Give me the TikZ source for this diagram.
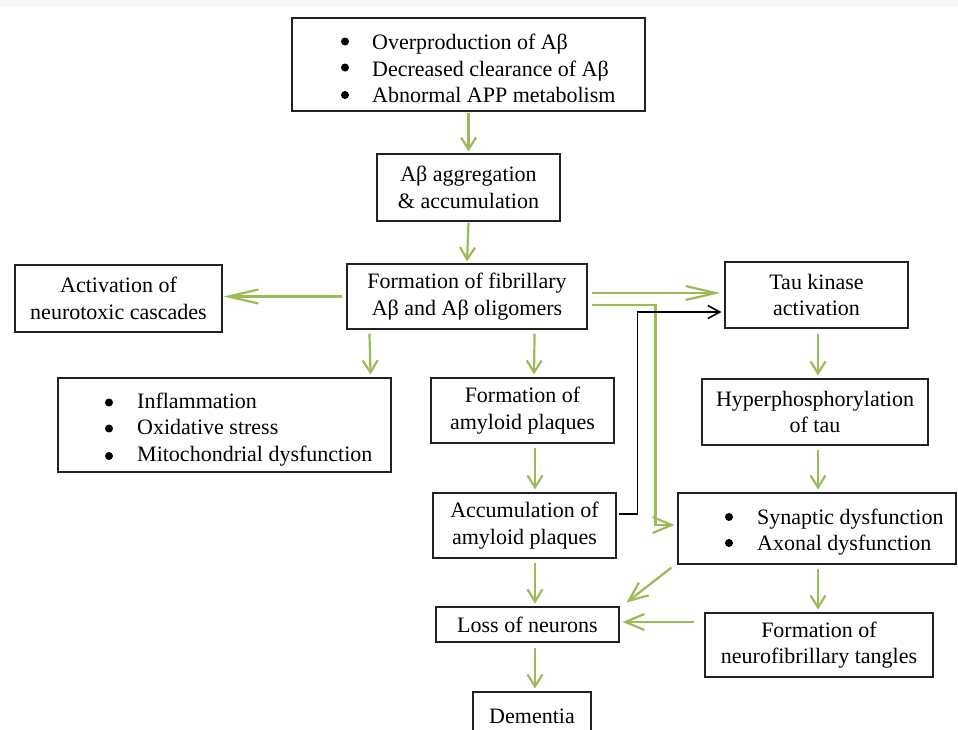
\documentclass[tikz,border=0pt]{standalone}
\usepackage{fontspec}
\setmainfont{Liberation Serif}
\usetikzlibrary{arrows.meta,calc}
\definecolor{gline}{HTML}{9BBB59}
\definecolor{boxline}{HTML}{222222}
\begin{document}
\begin{tikzpicture}[x=1pt,y=-1pt,
  box/.style={draw=boxline, line width=1.1pt, inner sep=0pt, align=center,
    font=\fontsize{22}{26.5}\selectfont, text=black},
  btext/.style={anchor=west, inner sep=0pt, align=left,
    font=\fontsize{22}{26.5}\selectfont, text=black},
  dot/.style={fill=black},
  garrow/.style={draw=gline, line width=2.2pt, -{Straight Barb[length=12pt,width=15pt,line width=2.2pt]}},
  longtip/.style={-{Straight Barb[length=30pt,width=14pt,line width=2.2pt]}},
  midtip/.style={-{Straight Barb[length=19pt,width=16pt,line width=2.2pt]}},
  barrow/.style={draw=black, line width=1.6pt, -{Straight Barb[length=12pt,width=13pt,line width=1.6pt]}}
]
\useasboundingbox (0,0) rectangle (958,729);
\clip (0,0) rectangle (958,729);
\fill[gray!6] (0,0) rectangle (958,7);

% boxes
\node[box, minimum width=353pt, minimum height=93pt] (top) at (468.5,64.5) {};
\node[btext] (toptext) at (372,68.5) {Overproduction of Aβ\\
  Decreased clearance of Aβ\\
  Abnormal APP metabolism};
\foreach \dy in {-27,-1,26.5} \fill[dot] ($(toptext.west)+(-27,\dy)$) circle (4);

\node[box, minimum width=183pt, minimum height=67pt] (agg) at (468.5,187.5) {Aβ aggregation\\\& accumulation};
\node[box, minimum width=240pt, minimum height=65pt] (fib) at (467,296.5) {Formation of fibrillary\\Aβ and Aβ oligomers};
\node[box, minimum width=207pt, minimum height=67pt] (act) at (118.5,298.5) {Activation of\\neurotoxic cascades};
\node[box, minimum width=183pt, minimum height=66pt] (tau) at (816.5,295) {Tau kinase\\activation};

\node[box, minimum width=333pt, minimum height=94pt] (infl) at (224.5,425) {};
\node[btext] (infltext) at (137,429.5) {Inflammation\\
  Oxidative stress\\
  Mitochondrial dysfunction};
\foreach \dy in {-27,-1,26.5} \fill[dot] ($(infltext.west)+(-28,\dy)$) circle (4);

\node[box, minimum width=183pt, minimum height=65pt] (fap) at (522.5,410.5) {Formation of\\amyloid plaques};
\node[box, minimum width=226pt, minimum height=66pt] (hyp) at (815,412) {Hyperphosphorylation\\of tau};
\node[box, minimum width=183pt, minimum height=65pt] (acc) at (524.5,525.5) {Accumulation of\\amyloid plaques};

\node[box, minimum width=278pt, minimum height=71pt] (syn) at (817,528.5) {};
\node[btext] (syntext) at (757,532) {Synaptic dysfunction\\
  Axonal dysfunction};
\foreach \dy in {-15,11} \fill[dot] ($(syntext.west)+(-28,\dy)$) circle (4);

\node[box, minimum width=183pt, minimum height=35pt] (loss) at (527.5,624.5) {Loss of neurons};
\node[box, minimum width=228pt, minimum height=64pt] (tang) at (819,645) {Formation of\\neurofibrillary tangles};
\node[box, minimum width=118pt, minimum height=48pt] (dem) at (532,716) {Dementia};

% green arrows
\draw[garrow] ($(top.south)+(0,1)$) -- ($(agg.north)+(0,-2)$);
\draw[garrow] ($(agg.south)+(0,1)$) -- ($(fib.north)+(0,-2)$);
\draw[garrow, longtip] ($(fib.west)+(-4,0)$) -- ($(act.east)+(1,-2)$);
\draw[garrow, longtip] ($(fib.east)+(4,-3.5)$) -- ($(tau.west)+(-4,-2)$);
\draw[garrow, midtip] ($(fib.east)+(4,8.5)$) -- ++(64,0) |- ($(syn.west)+(-3,-3.5)$);
\draw[garrow] ($(fib.south west)+(23,4)$) -- ($(infl.north east)+(-21,-3)$);
\draw[garrow] ($(fib.south east)+(-53,4)$) -- ($(fap.north)+(11.5,-3)$);
\draw[garrow] ($(fap.south)+(12.5,4)$) -- ($(acc.north)+(10.5,-3)$);
\draw[garrow] ($(acc.south)+(10.5,4)$) -- ($(loss.north)+(7.5,-3)$);
\draw[garrow] ($(loss.south)+(7.5,5)$) -- ($(dem.north)+(3,-3)$);
\draw[garrow] ($(tau.south)+(1.5,5)$) -- ($(hyp.north)+(3,-3)$);
\draw[garrow] ($(hyp.south)+(3,4)$) -- ($(syn.north)+(1,-3)$);
\draw[garrow] ($(syn.south)+(1,4)$) -- ($(tang.north)+(-1,-3)$);
\draw[garrow, midtip] ($(tang.west)+(-10,-23)$) -- ($(loss.east)+(3,-2.5)$);
\draw[garrow, midtip] ($(syn.south west)+(-6,3)$) -- ($(loss.north east)+(7,-4)$);

% black arrow
\draw[barrow] ($(acc.east)+(2,-11.5)$) -- ++(19,0) |- ($(tau.west)+(-3,17)$);
\end{tikzpicture}
\end{document}
